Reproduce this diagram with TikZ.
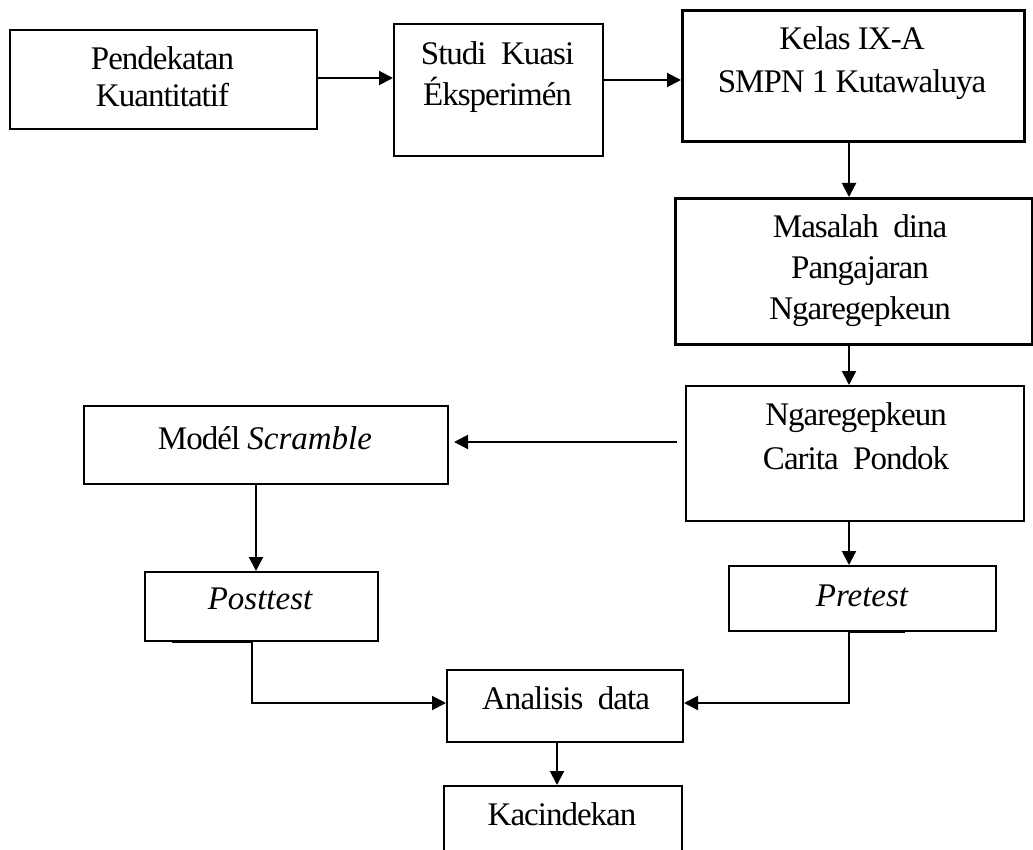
\documentclass[tikz,border=0pt]{standalone}
\usepackage{fontspec}
\setmainfont{Liberation Serif}[LetterSpace=-3]
\newfontfamily\plainserif{Liberation Serif}
\usetikzlibrary{arrows.meta}
\begin{document}
\begin{tikzpicture}[x=1pt,y=-1pt,
  box/.style={draw,line width=2pt,inner sep=0,anchor=north west},
  thickbox/.style={box,line width=3pt},
  txt/.style={align=center,inner sep=0,anchor=north},
  arr/.style={line width=2pt,-{Triangle[length=14pt,width=14pt]}}]
\useasboundingbox (0,0) rectangle (1033,850);
\clip (0,0) rectangle (1033,850);
% boxes
\node[box,minimum width=307pt,minimum height=99pt] (A) at (9,29) {};
\node[box,minimum width=209pt,minimum height=132pt] (B) at (393,23) {};
\node[thickbox,minimum width=342pt,minimum height=131pt] (C) at (681,9) {};
\node[thickbox,minimum width=357pt,minimum height=146pt] (D) at (674,197) {};
\node[box,minimum width=338pt,minimum height=135pt] (E) at (685,385) {};
\node[box,minimum width=364pt,minimum height=78pt] (F) at (83,405) {};
\node[box,minimum width=233pt,minimum height=69pt] (G) at (144,571) {};
\node[box,minimum width=267pt,minimum height=65pt] (H) at (728,565) {};
\node[box,minimum width=236pt,minimum height=72pt] (I) at (446,669) {};
\node[box,minimum width=238pt,minimum height=90pt] (J) at (443,785) {};
% texts
\node[txt,font=\fontsize{33}{37}\selectfont] (tA) at (162.5,46.5) {Pendekatan\\Kuantitatif};
\node[txt,font=\fontsize{33}{41}\selectfont] (tB) at (497.5,41.5) {Studi\ \ Kuasi\\Éksperimén};
\node[txt,font=\fontsize{33}{43}\selectfont] (tC) at (852,26.5) {Kelas IX-A\\SMPN 1 Kutawaluya};
\node[txt,font=\fontsize{33}{41}\selectfont] (tD) at (860,214.5) {Masalah\ \ dina\\Pangajaran\\Ngaregepkeun};
\node[txt,font=\fontsize{33}{44}\selectfont] (tE) at (856,402.5) {Ngaregepkeun\\Carita\ \ Pondok};
\node[txt,font=\fontsize{33}{42}\selectfont] (tF) at (265,426.5) {Modél {\plainserif\itshape Scramble}};
\node[txt,font=\fontsize{33}{42}\selectfont] (tG) at (260,588) {{\plainserif\itshape Posttest}};
\node[txt,font=\fontsize{33}{42}\selectfont] (tH) at (862,585) {{\plainserif\itshape Pretest}};
\node[txt,font=\fontsize{33}{42}\selectfont] (tI) at (566,686.3) {Analisis\ \ data};
\node[txt,font=\fontsize{33}{42}\selectfont] (tJ) at (562,802.5) {Kacindekan};
% helper coordinates
\coordinate (ya) at (0,78);
\coordinate (yb) at (0,80);
\coordinate (xa) at (849,0);
\coordinate (ye) at (0,442);
\coordinate (xf) at (256,0);
\coordinate (xg) at (252,0);
\coordinate (yi) at (0,703);
\coordinate (xi) at (557,0);
% connectors
\draw[arr] (A.east |- ya) -- (B.west |- ya);
\draw[arr] (B.east |- yb) -- (C.west |- yb);
\draw[arr] (C.south -| xa) -- (D.north -| xa);
\draw[arr] (D.south -| xa) -- (E.north -| xa);
\draw[arr,shorten <=8pt,shorten >=5pt] (E.west |- ye) -- (F.east |- ye);
\draw[arr] (F.south -| xf) -- (G.north -| xf);
\draw[arr] (E.south -| xa) -- (H.north -| xa);
\draw[arr] (G.south -| xg) |- (I.west |- yi);
\draw[arr] (H.south -| xa) |- (I.east |- yi);
\draw[arr] (I.south -| xi) -- (J.north -| xi);
% small overlays on box bottoms
\draw[line width=2.6pt] ([xshift=28pt]G.south west) -- ([xshift=109pt]G.south west);
\draw[line width=2.6pt] ([xshift=121pt]H.south west) -- ([xshift=177pt]H.south west);
\end{tikzpicture}
\end{document}
